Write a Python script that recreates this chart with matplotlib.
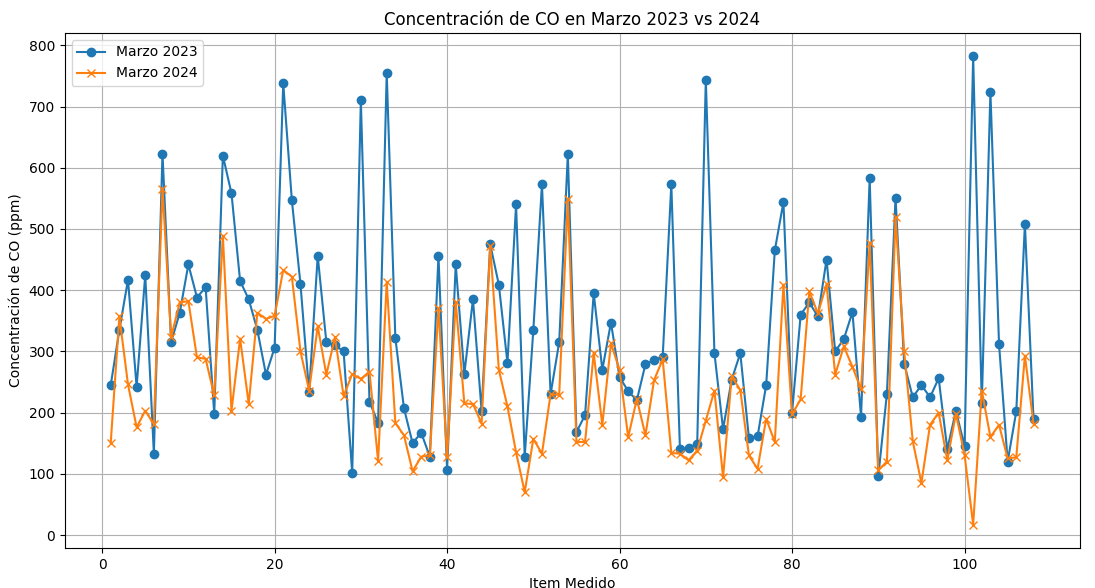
import matplotlib
matplotlib.use("Agg")
import matplotlib.pyplot as plt

items = list(range(1, 109))

marzo_2023 = [245, 335, 417, 242, 425, 133, 623, 315, 363, 442,
              388, 405, 198, 620, 558, 415, 385, 335, 262, 306,
              738, 547, 410, 233, 456, 315, 310, 300, 101, 710,
              218, 183, 755, 322, 207, 150, 167, 128, 456, 107,
              442, 263, 385, 203, 475, 409, 281, 540, 128, 335,
              573, 230, 315, 622, 168, 196, 395, 270, 347, 258,
              235, 220, 279, 286, 291, 573, 140, 142, 148, 744,
              297, 173, 254, 297, 158, 161, 245, 465, 544, 200,
              360, 380, 357, 450, 300, 320, 364, 193, 583, 96,
              231, 551, 280, 225, 245, 225, 256, 140, 203, 145,
              782, 215, 724, 312, 120, 202, 508, 189]

marzo_2024 = [151, 357, 246, 176, 203, 181, 566, 323, 380, 382,
              290, 288, 228, 489, 203, 321, 214, 363, 353, 358,
              433, 422, 300, 236, 341, 262, 323, 227, 263, 255,
              267, 121, 413, 183, 163, 104, 128, 130, 371, 127,
              381, 215, 214, 182, 472, 270, 210, 135, 70, 157,
              133, 230, 229, 549, 152, 152, 297, 180, 313, 270,
              160, 222, 163, 253, 287, 134, 133, 122, 138, 187,
              236, 94, 259, 237, 130, 108, 190, 152, 409, 197,
              222, 398, 362, 410, 262, 308, 275, 238, 477, 106,
              120, 519, 300, 153, 85, 180, 200, 122, 198, 131,
              17, 236, 160, 180, 125, 127, 293, 182]

fig, ax = plt.subplots(figsize=(10.95, 5.88), dpi=100)
ax.plot(items, marzo_2023, marker="o", label="Marzo 2023")
ax.plot(items, marzo_2024, marker="x", label="Marzo 2024")
ax.set_title("Concentración de CO en Marzo 2023 vs 2024")
ax.set_xlabel("Item Medido")
ax.set_ylabel("Concentración de CO (ppm)")
ax.legend(loc="upper left")
ax.grid(True)

plt.subplots_adjust(left=0.059, right=0.986, top=0.944, bottom=0.068)
plt.savefig("out.png")
